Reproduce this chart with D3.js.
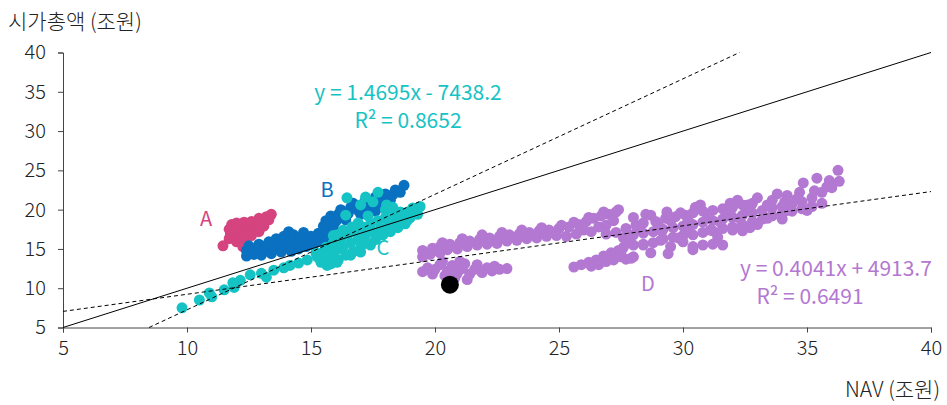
<!DOCTYPE html>
<html>
<head>
<meta charset="utf-8">
<script src="https://cdn.jsdelivr.net/npm/d3@7"></script>
<style>
  body { margin: 0; background: #fff; }
  text { font-family: "Noto Sans CJK KR", "Noto Sans", sans-serif; }
</style>
</head>
<body>
<script>
// NAV (조원) vs 시가총액 (조원)
const groupA = [[11.7,16.3],[11.75,16.9],[11.7,17.5],[11.8,18.1],[12.0,15.9],[12.0,16.5],[12.0,17.1],[12.0,17.7],[12.0,18.3],
  [12.3,16.1],[12.3,16.7],[12.3,17.3],[12.3,17.9],[12.3,18.4],[12.6,16.7],[12.6,17.3],[12.6,17.9],[12.6,18.5],[12.9,17.2],
  [12.9,17.8],[12.9,18.4],[12.9,18.9],[13.1,17.9],[13.1,18.5],[13.2,19.1],[13.4,19.4],[13.3,18.7],[11.45,15.4],[12.25,15.3]]

const groupB = [[12.4,14.1],[12.4,14.8],[12.5,15.4],[12.7,14.3],[12.8,15.0],[12.9,15.6],[13.0,14.2],[13.1,14.8],[13.2,15.4],
  [13.3,15.9],[13.4,14.4],[13.5,15.0],[13.6,15.6],[13.6,16.3],[13.8,14.6],[13.9,15.2],[13.9,15.9],[13.9,16.6],[14.1,17.2],
  [14.2,14.7],[14.2,15.4],[14.2,16.1],[14.3,16.8],[14.5,15.0],[14.5,15.7],[14.6,16.4],[14.7,17.1],[14.8,15.3],[14.9,16.0],
  [15.0,16.6],[15.1,15.5],[15.2,16.2],[15.3,17.0],[15.4,16.0],[15.5,16.6],[15.6,17.3],[15.7,16.2],
  [15.5,17.9],[15.6,18.6],[15.8,19.2],[15.9,17.8],[16.0,18.5],[16.1,19.4],[16.2,20.0],[16.4,18.7],[16.5,19.5],[16.6,20.3],
  [16.7,20.8],[16.9,19.9],[17.0,20.6],[17.2,21.2],[17.3,20.2],[17.5,21.0],[17.6,21.6],[17.8,20.6],[17.9,21.4],[18.0,22.0],
  [18.2,21.2],[18.3,21.9],[18.4,22.5],[18.6,22.2],[18.75,23.1],[18.0,20.4],[17.6,19.8],[17.0,19.4]]

const groupC = [[9.8,7.5],[10.5,8.5],[10.9,9.4],[11.0,8.9],[11.5,9.8],[11.85,10.7],[11.9,10.1],[12.15,11.0],[12.55,11.7],
  [13.0,11.9],[13.2,11.4],[13.5,12.3],[13.9,12.6],[14.15,12.9],[14.5,13.2],[14.85,13.6],[15.25,14.0],[15.5,14.6],[15.65,12.9],
  [15.2,14.5],[15.4,13.6],[15.6,15.2],[15.7,14.2],[15.8,13.1],[15.9,15.8],[16.0,14.8],[16.1,13.6],[16.2,16.3],[16.3,15.3],
  [16.4,14.2],[16.5,16.9],[16.6,15.8],[16.7,14.7],[16.8,17.3],[16.9,16.3],[17.0,15.2],[17.1,17.8],[17.2,16.8],[17.3,15.7],
  [17.4,18.2],[17.5,17.2],[17.6,16.2],[17.7,18.6],[17.8,17.6],[17.9,16.8],[18.0,19.0],[18.1,18.0],[18.2,17.2],[18.3,19.3],
  [18.4,18.4],[18.5,17.7],[18.6,19.5],[18.7,18.7],[18.8,18.2],[18.9,19.7],[19.0,19.0],[19.2,20.0],[19.4,20.4],[19.1,19.4],
  [16.45,21.5],[17.2,21.6],[17.7,22.2],[17.5,21.0],[18.05,20.6],[17.0,20.6],[18.6,19.7],[19.1,20.2],[16.65,17.8],[16.05,16.8],
  [16.4,19.3],[15.8,14.2],[16.2,15.1],[16.6,14.2],[17.0,15.9],[17.0,14.6],[17.4,15.5],[15.4,13.3],[16.05,13.3],
  [18.3,20.3],[18.0,20.0],[17.3,19.2],[16.9,18.3],[16.3,17.4],[15.9,16.7],[19.3,19.4],[18.9,18.7],[18.5,18.9]]

const groupD = [
  // 왼쪽 위 띠
  [19.5,14.0],[19.5,14.8],[19.8,14.3],[19.9,15.1],[20.2,14.5],[20.2,15.3],[20.5,14.9],[20.6,15.6],[20.9,15.0],[21.0,15.8],
  [21.3,15.3],[21.4,16.0],[21.7,15.5],[21.8,16.2],[22.1,15.6],[22.2,16.4],[22.5,15.7],[22.6,16.6],[22.9,16.0],[23.0,16.8],
  [23.3,16.1],[23.4,16.9],[23.7,16.3],[23.8,17.1],[24.1,16.4],[24.2,17.3],[24.5,16.6],[24.6,17.4],[24.9,16.7],[25.0,17.6],
  [25.3,16.6],[25.4,17.8],[25.7,16.9],[25.8,18.1],[26.0,17.4],[26.1,18.5],[26.3,17.2],[26.4,18.9],[26.6,17.8],[26.7,19.2],
  [26.9,18.0],[27.0,19.4],[27.2,18.6],[27.3,19.7],[26.9,16.9],
  [20.3,15.8],[21.1,16.3],[21.9,16.8],[22.7,17.1],[23.5,17.4],[24.3,17.7],[25.1,18.0],[25.6,18.4],[26.2,19.0],[26.8,19.7],[27.4,20.0],
  // 왼쪽 아래 덩어리
  [19.5,12.1],[19.7,12.6],[19.9,11.8],[20.0,12.4],[20.2,13.0],[20.4,11.6],[20.5,12.2],[20.7,12.9],[20.8,11.3],[20.9,11.9],
  [21.1,12.5],[21.2,13.1],[21.3,11.1],[21.4,11.8],[21.6,12.4],[21.7,13.0],[21.9,12.0],[22.1,12.6],[22.3,12.2],[22.4,12.8],
  [22.6,12.4],[22.9,12.5],[21.0,13.4],[20.3,13.4],
  // 가운데 아래 띠
  [25.6,12.7],[25.9,13.0],[26.2,13.3],[26.3,12.8],[26.5,13.6],[26.6,13.0],[26.8,14.1],[26.9,13.4],[27.1,14.5],[27.2,13.6],
  [27.4,14.8],[27.5,14.0],[27.7,13.7],
  // 오른쪽 띠
  [27.6,15.2],[27.6,16.4],[27.7,17.6],[28.0,15.5],[28.0,16.8],[28.1,18.0],[28.4,15.6],[28.4,17.0],[28.4,18.3],[28.5,19.4],
  [28.8,15.8],[28.8,17.2],[28.9,18.5],[29.2,16.3],[29.2,17.5],[29.3,18.9],[29.6,16.5],[29.6,17.7],[29.7,19.1],[30.0,16.7],
  [30.0,17.9],[30.1,19.3],[30.4,16.8],[30.4,18.1],[30.4,19.6],[30.4,15.3],[30.8,17.1],[30.8,18.4],[30.8,19.8],[31.2,17.3],
  [31.2,18.6],[31.2,19.9],[31.2,15.6],[31.6,17.6],[31.6,18.8],[31.6,20.1],[32.0,17.8],[32.0,19.0],[32.0,20.3],[32.4,18.1],
  [32.4,19.3],[32.4,20.6],[32.8,18.5],[32.8,19.6],[32.8,20.8],[33.2,18.8],[33.2,19.9],[33.0,21.5],[33.6,19.2],[33.6,20.2],
  [33.6,21.2],[34.0,19.5],[34.0,20.4],[34.2,21.8],[34.4,19.8],[34.4,20.7],[34.7,22.2],[34.8,20.1],[34.8,21.0],[34.85,23.4],
  [35.2,20.4],[35.2,21.5],[35.4,24.0],[35.6,20.8],[35.6,22.2],[35.9,23.7],[36.0,22.8],[36.25,25.0],[35.0,19.9],[34.2,19.9],
  [33.4,18.9],[32.7,17.7],[32.0,17.4],[31.6,15.5],[30.8,15.5],[30.4,14.9],[29.8,16.4],[29.1,16.1],[28.4,15.5],[28.0,14.0],
  [27.5,14.6],[27.7,16.1],[29.1,17.4],[30.2,17.7],[31.1,17.4],[32.3,18.9],[31.5,18.4],[28.7,19.3],[29.35,19.7],[29.9,19.6],
  [30.7,20.6],[31.9,20.8],[32.6,20.6],
  [27.3,17.1],[28.2,17.6],[29.0,18.0],[29.5,18.6],[30.2,18.7],[31.0,19.2],[31.9,19.6],[32.6,20.1],[33.4,20.6],[34.1,21.0],
  [34.6,21.4],[35.3,22.4],[35.8,22.9],[36.3,23.6],[33.8,22.0],[32.2,21.2],[30.5,20.3],[28.0,19.0],[27.9,13.8],[28.7,14.5],
  [29.5,15.3],[30.0,15.9],[31.4,16.5],[32.4,17.3],[33.0,18.1],[34.0,18.8],[29.4,14.4]]

const marker = [[20.6, 10.45]]

const xTicks = [5, 10, 15, 20, 25, 30, 35, 40]
const yTicks = [5, 10, 15, 20, 25, 30, 35, 40]

// 추세선 양 끝점
const trendC = [[8.47, 5], [32.28, 40]]
const trendD = [[5, 7.05], [40, 22.3]]
const identity = [[5, 5], [40, 40]]

const width = 947, height = 405
const svg = d3.select("body").append("svg")
    .attr("width", width)
    .attr("height", height)

const x = d3.scaleLinear().domain([5, 40]).range([63, 931])
const y = d3.scaleLinear().domain([5, 40]).range([327.5, 52.5])

const colors = { A: "#d5447f", B: "#0a70c0", C: "#16c3c4", D: "#b378d1" }

// axes
svg.append("g")
    .attr("transform", "translate(0," + y(5) + ")")
    .call(d3.axisBottom(x).tickValues(xTicks).tickSize(5).tickPadding(8).tickFormat(d3.format("d")))
svg.append("g")
    .attr("transform", "translate(" + x(5) + ",0)")
    .call(d3.axisLeft(y).tickValues(yTicks).tickSize(5).tickPadding(12).tickFormat(d3.format("d")))

svg.selectAll(".domain, .tick line").attr("stroke", "#444").attr("stroke-width", 1)
svg.selectAll(".tick text")
    .style("font-size", "20px")
    .style("font-weight", 300)
    .attr("fill", "#222")

// points
const drawGroup = (data, color, r) => {
    svg.append("g").selectAll("circle")
        .data(data)
        .join("circle")
        .attr("cx", d => x(d[0]))
        .attr("cy", d => y(d[1]))
        .attr("r", r)
        .attr("fill", color)
}
drawGroup(groupA, colors.A, 5.5)
drawGroup(groupB, colors.B, 5.5)
drawGroup(groupC, colors.C, 5.5)
drawGroup(groupD, colors.D, 5.5)
drawGroup(marker, "#000", 9)

// lines
const lineGen = d3.line().x(d => x(d[0])).y(d => y(d[1]))

svg.append("path")
    .attr("d", lineGen(identity))
    .attr("stroke", "#000").attr("stroke-width", 1).attr("fill", "none")

svg.selectAll(".trend")
    .data([trendC, trendD])
    .join("path")
    .attr("class", "trend")
    .attr("d", lineGen)
    .attr("stroke", "#000").attr("stroke-width", 1).attr("stroke-dasharray", "4,3").attr("fill", "none")

// labels
const addText = (txt, px, py, color, size) => {
    svg.append("text")
        .attr("x", px).attr("y", py)
        .attr("text-anchor", "middle")
        .attr("fill", color)
        .style("font-size", size + "px")
        .text(txt)
}
addText("A", 206, 226, colors.A, 20)
addText("B", 327, 197, colors.B, 20)
addText("C", 383, 255, colors.C, 20)
addText("D", 648, 291, colors.D, 20)

addText("y = 1.4695x - 7438.2", 408, 100, colors.C, 21)
addText("R² = 0.8652", 408, 128, colors.C, 21)
addText("y = 0.4041x + 4913.7", 836, 276, colors.D, 21)
addText("R² = 0.6491", 810, 304, colors.D, 21)

// axis titles
svg.append("text")
    .attr("x", 8).attr("y", 29)
    .attr("fill", "#222")
    .style("font-size", "21px")
    .style("font-weight", 300)
    .text("시가총액 (조원)")

svg.append("text")
    .attr("x", 940).attr("y", 397)
    .attr("text-anchor", "end")
    .attr("fill", "#222")
    .style("font-size", "21px")
    .style("font-weight", 300)
    .text("NAV (조원)")
</script>
</body>
</html>
